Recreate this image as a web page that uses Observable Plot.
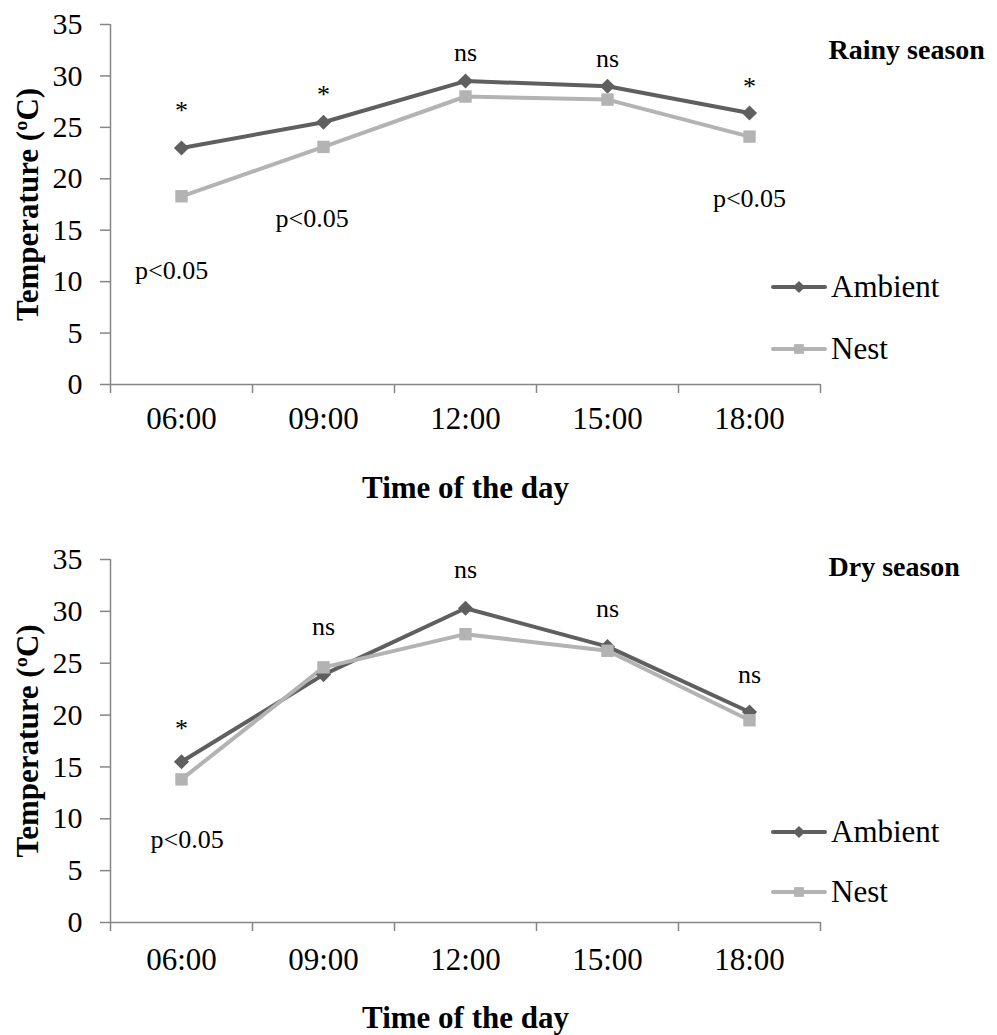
<!DOCTYPE html>
<html><head><meta charset="utf-8">
<script src="https://cdn.jsdelivr.net/npm/d3@7"></script>
<script src="https://cdn.jsdelivr.net/npm/@observablehq/plot@0.6"></script>
<style>
body{margin:0;background:#fff;}
#wrap{position:relative;width:997px;height:1035px;font-family:"Liberation Serif","Times New Roman",serif;}
#wrap > svg{display:block;}
#legend{position:absolute;left:0;top:0;pointer-events:none;}
</style></head><body><div id="wrap"></div>
<script>
const times = ["06:00", "09:00", "12:00", "15:00", "18:00"];
const series = ["Ambient", "Nest"];
const seriesColors = ["#5f5f5f", "#b3b3b3"];
const yTicks = [0, 5, 10, 15, 20, 25, 30, 35];

const rainyAmbient = [23.0, 25.5, 29.5, 29.0, 26.4];
const rainyNest = [18.3, 23.1, 28.0, 27.7, 24.1];
const rainyNotes = ["*", "*", "ns", "ns", "*"];
const rainyNotesY = [26.6, 28.2, 32.3, 31.7, 29.0];
const rainySigTimes = ["06:00", "09:00", "18:00"];
const rainySigShift = [-0.07, -0.08, 0];
const rainySigY = [11.1, 16.1, 18.1];

const dryAmbient = [15.5, 23.9, 30.3, 26.6, 20.3];
const dryNest = [13.8, 24.6, 27.8, 26.2, 19.5];
const dryNotes = ["*", "ns", "ns", "ns", "ns"];
const dryNotesY = [18.7, 28.5, 34.0, 30.3, 23.9];
const drySigTimes = ["06:00"];
const drySigShift = [0.04];
const drySigY = [8.0];

const pos = t => times.indexOf(t) + 0.5;
const FONT = "Liberation Serif";

function panel(o) {
  const rows = times.flatMap((t, i) => [
    {time: t, series: "Ambient", v: o.ambient[i]},
    {time: t, series: "Nest", v: o.nest[i]}
  ]);
  return Plot.plot({
    width: 997, height: o.height,
    marginLeft: 110, marginRight: 177, marginTop: o.marginTop, marginBottom: o.marginBottom,
    style: {fontFamily: FONT, fontSize: "30px", color: "#000", background: "#fff", overflow: "visible"},
    x: {type: "linear", domain: [0, times.length]},
    y: {domain: [0, 35]},
    color: {domain: series, range: seriesColors},
    marks: [
      Plot.axisY({ticks: yTicks, tickSize: 10, tickPadding: 18, stroke: "#868686", strokeWidth: 1.5, label: null, fontSize: 30}),
      Plot.axisX({ticks: d3.range(times.length + 1), tickSize: 9, tickFormat: () => "", stroke: "#868686", strokeWidth: 1.5, label: null}),
      Plot.axisX({ticks: times.map(pos), tickSize: 0, tickPadding: o.tickPad, tickFormat: v => times[Math.round(v - 0.5)], label: null, fontSize: 31}),
      Plot.ruleY([0], {stroke: "#868686", strokeWidth: 1.5}),
      Plot.ruleX([0], {stroke: "#868686", strokeWidth: 1.5}),
      Plot.line(rows, {x: d => pos(d.time), y: "v", z: "series", stroke: "series", strokeWidth: 4}),
      Plot.dot(rows.filter(d => d.series === "Ambient"), {x: d => pos(d.time), y: "v", fill: "series", symbol: "diamond2", r: 6.8}),
      Plot.dot(rows.filter(d => d.series === "Nest"), {x: d => pos(d.time), y: "v", fill: "series", symbol: "square", r: 7}),
      Plot.text(times, {x: pos, y: (t, i) => o.notesY[i], text: (t, i) => o.notes[i], fontSize: 26, lineAnchor: "middle"}),
      Plot.text(o.sigTimes, {x: (t, i) => pos(t) + o.sigShift[i], y: (t, i) => o.sigY[i], text: () => "p<0.05", fontSize: 26, lineAnchor: "middle"}),
      Plot.text([o.title], {text: d => d, frameAnchor: "top-right", dx: 8, dy: o.titleDy, textAnchor: "start", lineAnchor: "middle", fontWeight: "bold", fontSize: 28}),
      Plot.text(["Time of the day"], {text: d => d, frameAnchor: "bottom", dy: o.xLabelDy, textAnchor: "middle", lineAnchor: "middle", fontWeight: "bold", fontSize: 31}),
      Plot.text(["Temperature (ºC)"], {text: d => d, frameAnchor: "left", dx: -82, rotate: -90, textAnchor: "middle", lineAnchor: "middle", fontWeight: "bold", fontSize: 31})
    ]
  });
}

const wrap = document.getElementById("wrap");
wrap.appendChild(panel({ambient: rainyAmbient, nest: rainyNest, notes: rainyNotes, notesY: rainyNotesY,
  sigTimes: rainySigTimes, sigShift: rainySigShift, sigY: rainySigY, title: "Rainy season",
  height: 520, marginTop: 24, marginBottom: 136, tickPad: 22, titleDy: 26, xLabelDy: 104}));
wrap.appendChild(panel({ambient: dryAmbient, nest: dryNest, notes: dryNotes, notesY: dryNotesY,
  sigTimes: drySigTimes, sigShift: drySigShift, sigY: drySigY, title: "Dry season",
  height: 515, marginTop: 39, marginBottom: 113, tickPad: 25, titleDy: 8, xLabelDy: 96}));

// Legends (layout overlay)
const leg = d3.select(wrap).append("svg").attr("id", "legend").attr("width", 997).attr("height", 1035);
const legendRows = [[287, 349], [832, 892]];
legendRows.forEach(ys => {
  series.forEach((s, i) => {
    const g = leg.append("g").attr("transform", `translate(0,${ys[i]})`);
    g.append("line").attr("x1", 773).attr("x2", 825).attr("y1", 0).attr("y2", 0)
      .attr("stroke", seriesColors[i]).attr("stroke-width", 4).attr("stroke-linecap", "round");
    const sym = i === 0 ? d3.symbolDiamond2 : d3.symbolSquare;
    const size = Math.PI * 5.5 * 5.5;
    g.append("path").attr("d", d3.symbol(sym, size)()).attr("transform", "translate(799,0)").attr("fill", seriesColors[i]);
    g.append("text").attr("x", 831).attr("y", 0).attr("dy", "0.32em").attr("font-family", FONT)
      .attr("font-size", 31).attr("fill", "#000").text(s);
  });
});
</script></body></html>
